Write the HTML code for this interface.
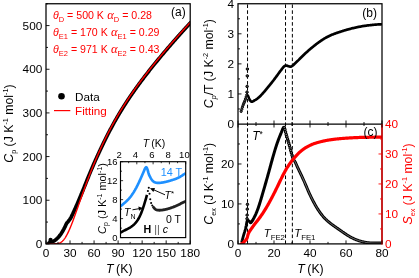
<!DOCTYPE html>
<html><head><meta charset="utf-8"><title>Figure</title>
<style>html,body{margin:0;padding:0;background:#fff;}body{width:419px;height:278px;overflow:hidden;font-family:"Liberation Sans",sans-serif;}</style></head>
<body>
<svg width="419" height="278" viewBox="0 0 419 278" style="display:block;will-change:transform">
<rect width="419" height="278" fill="#fff"/>
<clipPath id="ca"><rect x="46.00" y="3.75" width="144.20" height="240.15"/></clipPath>
<g clip-path="url(#ca)">
<path d="M47.69 243.99 L47.90 243.89 L48.11 243.75 L48.32 243.58 L48.53 243.40 L48.74 243.21 L48.95 243.03 L49.16 242.87 L49.37 242.71 L49.58 242.52 L49.79 242.29 L50.00 242.00 L50.21 241.73 L50.42 241.50 L50.63 241.49 L50.83 241.53 L51.04 241.59 L51.25 241.64 L51.46 241.72 L51.67 241.79 L51.88 241.81 L52.09 241.78 L52.30 241.71 L52.51 241.63 L52.72 241.55 L52.93 241.46 L53.14 241.36 L53.35 241.26 L53.56 241.15 L53.77 241.05 L53.98 240.93 L54.19 240.81 L54.40 240.69 L54.61 240.56 L54.82 240.42 L55.03 240.27 L55.23 240.12 L55.44 239.96 L55.65 239.79 L55.86 239.62 L56.07 239.44 L56.28 239.26 L56.49 239.07 L56.70 238.88 L56.91 238.68 L57.12 238.48 L57.33 238.28 L57.54 238.07 L57.75 237.86 L57.96 237.65 L58.17 237.43 L58.38 237.21 L58.59 236.98 L58.80 236.75 L59.01 236.51 L59.22 236.26 L59.43 236.01 L59.63 235.75 L59.84 235.49 L60.05 235.21 L60.26 234.93 L60.47 234.64 L60.68 234.34 L60.89 234.04 L61.10 233.72 L61.31 233.40 L61.52 233.08 L61.73 232.74 L61.94 232.40 L62.15 232.06 L62.36 231.71 L62.57 231.35 L62.78 230.99 L62.99 230.62 L63.20 230.24 L63.41 229.86 L63.62 229.48 L63.83 229.09 L64.03 228.69 L64.24 228.29 L64.45 227.89 L64.66 227.47 L64.87 227.06 L65.08 226.63 L65.29 226.20 L65.50 225.76 L65.71 225.30 L65.92 224.83 L66.13 224.36 L66.34 223.90 L66.55 223.46 L66.76 223.07 L66.97 222.81 L67.18 222.59 L67.39 222.40 L67.60 222.20 L67.81 221.97 L68.02 221.73 L68.23 221.47 L68.43 221.21 L68.64 220.94 L68.85 220.66 L69.06 220.38 L69.27 220.10 L69.48 219.83 L69.69 219.55 L69.90 219.26 L70.11 218.96 L70.32 218.65 L70.53 218.32 L70.74 217.96 L70.95 217.57 L71.16 217.14 L71.37 216.70 L71.58 216.25 L71.79 215.82 L72.00 215.39 L72.21 214.97 L72.42 214.54 L72.63 214.12 L72.83 213.68 L73.04 213.24 L73.25 212.79 L73.46 212.34 L73.67 211.88 L73.88 211.42 L74.09 210.96 L74.30 210.50 L74.51 210.03 L74.72 209.57 L74.93 209.10 L75.14 208.63 L75.35 208.16 L75.56 207.69 L75.77 207.23 L75.98 206.76 L76.19 206.29 L76.40 205.82 L76.61 205.35 L76.82 204.88 L77.02 204.41 L77.23 203.94 L77.44 203.46 L77.65 202.98 L77.86 202.50 L78.07 202.02 L78.28 201.54 L78.49 201.05 L78.70 200.56 L78.91 200.07 L79.12 199.58 L79.33 199.08 L79.54 198.58 L79.75 198.08 L79.96 197.58 L80.17 197.08 L80.38 196.58 L80.59 196.08 L80.80 195.57 L81.01 195.06 L81.22 194.56 L81.42 194.05 L81.63 193.54 L81.84 193.03 L82.05 192.52 L82.26 192.01 L82.47 191.49 L82.68 190.98 L82.89 190.47 L83.10 189.95 L83.31 189.43 L83.52 188.91 L83.73 188.39 L83.94 187.87 L84.15 187.35 L84.36 186.83 L84.57 186.31 L84.78 185.79 L84.99 185.27 L85.20 184.74 L85.41 184.22 L85.62 183.70 L85.82 183.18 L86.03 182.65 L86.24 182.13 L86.45 181.61 L86.66 181.09 L86.87 180.57 L87.08 180.05 L87.29 179.53 L87.50 179.01 L87.71 178.49 L87.92 177.97 L88.13 177.46 L88.34 176.94 L88.55 176.43 L88.76 175.92 L88.97 175.41 L89.18 174.90 L89.39 174.39 L89.60 173.88 L89.81 173.37 L90.02 172.87 L90.22 172.37 L90.43 171.87 L90.64 171.37 L90.85 170.87 L91.06 170.37 L91.27 169.88 L91.48 169.38 L91.69 168.89 L91.90 168.40 L92.11 167.91 L92.32 167.43 L92.53 166.94 L92.74 166.46 L92.95 165.98 L93.16 165.50 L93.37 165.02 L93.58 164.54 L93.79 164.06 L94.00 163.59 L94.21 163.12 L94.42 162.64 L94.62 162.17 L94.83 161.70 L95.04 161.24 L95.25 160.77 L95.46 160.30 L95.67 159.84 L95.88 159.37 L96.09 158.91 L96.30 158.44 L96.51 157.98 L96.72 157.52 L96.93 157.06 L97.14 156.60 L97.35 156.14 L97.56 155.68 L97.77 155.23 L97.98 154.77 L98.19 154.31 L98.40 153.86 L98.61 153.40 L98.82 152.95 L99.02 152.50 L99.23 152.05 L99.44 151.60 L99.65 151.15 L99.86 150.70 L100.07 150.26 L100.28 149.81 L100.49 149.36 L100.70 148.92 L100.91 148.48 L101.12 148.03 L101.33 147.59 L101.54 147.15 L101.75 146.71 L101.96 146.27 L102.17 145.83 L102.38 145.40 L102.59 144.96 L102.80 144.53 L103.01 144.09 L103.22 143.66 L103.42 143.22 L103.63 142.79 L103.84 142.36 L104.05 141.93 L104.26 141.50 L104.47 141.07 L104.68 140.65 L104.89 140.22 L105.10 139.79 L105.31 139.37 L105.52 138.94 L105.73 138.52 L105.94 138.10 L106.15 137.68 L106.36 137.26 L106.57 136.84 L106.78 136.42 L106.99 136.00 L107.20 135.59 L107.41 135.17 L107.62 134.76 L107.82 134.35 L108.03 133.94 L108.24 133.53 L108.45 133.12 L108.66 132.71 L108.87 132.30 L109.08 131.90 L109.29 131.49 L109.50 131.09 L109.71 130.69 L109.92 130.29 L110.13 129.89 L110.34 129.58 L110.34 129.58 L110.74 128.82 L111.14 128.06 L111.55 127.31 L111.95 126.57 L112.35 125.82 L112.75 125.08 L113.16 124.35 L113.56 123.62 L113.96 122.89 L114.36 122.17 L114.77 121.45 L115.17 120.74 L115.57 120.03 L115.97 119.32 L116.38 118.62 L116.78 117.92 L117.18 117.22 L117.59 116.53 L117.99 115.85 L118.39 115.16 L118.79 114.48 L119.20 113.81 L119.60 113.13 L120.00 112.46 L120.40 111.80 L120.81 111.13 L121.21 110.47 L121.61 109.82 L122.01 109.17 L122.42 108.52 L122.82 107.87 L123.22 107.23 L123.62 106.59 L124.03 105.95 L124.43 105.32 L124.83 104.68 L125.23 104.06 L125.64 103.43 L126.04 102.81 L126.44 102.19 L126.84 101.57 L127.25 100.96 L127.65 100.35 L128.05 99.74 L128.45 99.13 L128.86 98.53 L129.26 97.93 L129.66 97.33 L130.06 96.74 L130.47 96.14 L130.87 95.55 L131.27 94.96 L131.68 94.38 L132.08 93.80 L132.48 93.21 L132.88 92.64 L133.29 92.06 L133.69 91.48 L134.09 90.91 L134.49 90.34 L134.90 89.77 L135.30 89.21 L135.70 88.64 L136.10 88.08 L136.51 87.52 L136.91 86.96 L137.31 86.41 L137.71 85.85 L138.12 85.30 L138.52 84.75 L138.92 84.20 L139.32 83.65 L139.73 83.11 L140.13 82.56 L140.53 82.02 L140.93 81.48 L141.34 80.94 L141.74 80.41 L142.14 79.87 L142.54 79.34 L142.95 78.80 L143.35 78.27 L143.75 77.74 L144.15 77.22 L144.56 76.69 L144.96 76.16 L145.36 75.64 L145.76 75.12 L146.17 74.60 L146.57 74.08 L146.97 73.56 L147.38 73.04 L147.78 72.53 L148.18 72.01 L148.58 71.50 L148.99 70.99 L149.39 70.48 L149.79 69.97 L150.19 69.46 L150.60 68.95 L151.00 68.44 L151.40 67.94 L151.80 67.44 L152.21 66.93 L152.61 66.43 L153.01 65.93 L153.41 65.43 L153.82 64.93 L154.22 64.43 L154.62 63.94 L155.02 63.44 L155.43 62.95 L155.83 62.45 L156.23 61.96 L156.63 61.47 L157.04 60.98 L157.44 60.49 L157.84 60.00 L158.24 59.51 L158.65 59.02 L159.05 58.54 L159.45 58.05 L159.85 57.57 L160.26 57.08 L160.66 56.60 L161.06 56.12 L161.47 55.64 L161.87 55.15 L162.27 54.67 L162.67 54.20 L163.08 53.72 L163.48 53.24 L163.88 52.76 L164.28 52.29 L164.69 51.81 L165.09 51.34 L165.49 50.86 L165.89 50.39 L166.30 49.92 L166.70 49.45 L167.10 48.97 L167.50 48.50 L167.91 48.03 L168.31 47.57 L168.71 47.10 L169.11 46.63 L169.52 46.16 L169.92 45.70 L170.32 45.23 L170.72 44.77 L171.13 44.30 L171.53 43.84 L171.93 43.38 L172.33 42.92 L172.74 42.45 L173.14 41.99 L173.54 41.53 L173.94 41.07 L174.35 40.61 L174.75 40.16 L175.15 39.70 L175.55 39.24 L175.96 38.79 L176.36 38.33 L176.76 37.87 L177.17 37.42 L177.57 36.97 L177.97 36.51 L178.37 36.06 L178.78 35.61 L179.18 35.16 L179.58 34.71 L179.98 34.26 L180.39 33.81 L180.79 33.36 L181.19 32.91 L181.59 32.46 L182.00 32.02 L182.40 31.57 L182.80 31.12 L183.20 30.68 L183.61 30.24 L184.01 29.79 L184.41 29.35 L184.81 28.91 L185.22 28.46 L185.62 28.02 L186.02 27.58 L186.42 27.14 L186.83 26.70 L187.23 26.26 L187.63 25.83 L188.03 25.39 L188.44 24.95 L188.84 24.51 L189.24 24.08 L189.64 23.64 L190.05 23.21 L190.45 22.78" fill="none" stroke="#000" stroke-width="3.7" stroke-linejoin="round" stroke-linecap="round"/>
<circle cx="50.55" cy="239.97" r="2.1" fill="#000"/>
<path d="M46.40 243.90 L46.76 243.90 L47.12 243.90 L47.48 243.90 L47.84 243.90 L48.20 243.90 L48.56 243.90 L48.92 243.90 L49.28 243.89 L49.64 243.89 L50.00 243.89 L50.36 243.89 L50.73 243.88 L51.09 243.88 L51.45 243.88 L51.81 243.87 L52.17 243.87 L52.53 243.86 L52.89 243.85 L53.25 243.84 L53.61 243.84 L53.97 243.83 L54.33 243.81 L54.69 243.80 L55.05 243.79 L55.41 243.77 L55.77 243.74 L56.13 243.72 L56.49 243.69 L56.85 243.65 L57.21 243.60 L57.57 243.55 L57.93 243.48 L58.29 243.40 L58.65 243.31 L59.01 243.20 L59.37 243.07 L59.74 242.93 L60.10 242.77 L60.46 242.58 L60.82 242.37 L61.18 242.14 L61.54 241.89 L61.90 241.61 L62.26 241.30 L62.62 240.96 L62.98 240.60 L63.34 240.21 L63.70 239.79 L64.06 239.34 L64.42 238.86 L64.78 238.36 L65.14 237.83 L65.50 237.27 L65.86 236.68 L66.22 236.07 L66.58 235.43 L66.94 234.77 L67.30 234.08 L67.66 233.37 L68.02 232.63 L68.38 231.88 L68.75 231.10 L69.11 230.30 L69.47 229.49 L69.83 228.65 L70.19 227.80 L70.55 226.93 L70.91 226.05 L71.27 225.15 L71.63 224.24 L71.99 223.31 L72.35 222.38 L72.71 221.43 L73.07 220.47 L73.43 219.51 L73.79 218.53 L74.15 217.55 L74.51 216.56 L74.87 215.56 L75.23 214.56 L75.59 213.56 L75.95 212.55 L76.31 211.53 L76.67 210.51 L77.03 209.49 L77.39 208.47 L77.76 207.45 L78.12 206.42 L78.48 205.39 L78.84 204.37 L79.20 203.34 L79.56 202.31 L79.92 201.29 L80.28 200.26 L80.64 199.24 L81.00 198.22 L81.36 197.20 L81.72 196.18 L82.08 195.17 L82.44 194.16 L82.80 193.15 L83.16 192.14 L83.52 191.14 L83.88 190.14 L84.24 189.14 L84.60 188.15 L84.96 187.16 L85.32 186.18 L85.68 185.20 L86.04 184.22 L86.40 183.25 L86.77 182.28 L87.13 181.32 L87.49 180.36 L87.85 179.41 L88.21 178.46 L88.57 177.51 L88.93 176.57 L89.29 175.63 L89.65 174.70 L90.01 173.77 L90.37 172.85 L90.73 171.93 L91.09 171.02 L91.45 170.11 L91.81 169.21 L92.17 168.31 L92.53 167.42 L92.89 166.53 L93.25 165.65 L93.61 164.77 L93.97 163.89 L94.33 163.02 L94.69 162.16 L95.05 161.30 L95.41 160.44 L95.78 159.59 L96.14 158.75 L96.50 157.90 L96.86 157.07 L97.22 156.24 L97.58 155.41 L97.94 154.58 L98.30 153.77 L98.66 152.95 L99.02 152.14 L99.38 151.34 L99.74 150.54 L100.10 149.74 L100.46 148.95 L100.82 148.16 L101.18 147.38 L101.54 146.60 L101.90 145.83 L102.26 145.06 L102.62 144.29 L102.98 143.53 L103.34 142.77 L103.70 142.02 L104.06 141.27 L104.42 140.53 L104.79 139.78 L105.15 139.05 L105.51 138.31 L105.87 137.59 L106.23 136.86 L106.59 136.14 L106.95 135.42 L107.31 134.71 L107.67 134.00 L108.03 133.29 L108.39 132.59 L108.75 131.89 L109.11 131.20 L109.47 130.51 L109.83 129.82 L110.19 129.14 L110.55 128.46 L110.91 127.78 L111.27 127.11 L111.63 126.44 L111.99 125.77 L112.35 125.11 L112.71 124.45 L113.07 123.79 L113.43 123.14 L113.80 122.49 L114.16 121.85 L114.52 121.20 L114.88 120.56 L115.24 119.93 L115.60 119.29 L115.96 118.66 L116.32 118.04 L116.68 117.41 L117.04 116.79 L117.40 116.17 L117.76 115.56 L118.12 114.95 L118.48 114.34 L118.84 113.73 L119.20 113.13 L119.56 112.53 L119.92 111.93 L120.28 111.33 L120.64 110.74 L121.00 110.15 L121.36 109.56 L121.72 108.98 L122.08 108.40 L122.44 107.82 L122.81 107.24 L123.17 106.67 L123.53 106.10 L123.89 105.53 L124.25 104.96 L124.61 104.39 L124.97 103.83 L125.33 103.27 L125.69 102.71 L126.05 102.16 L126.41 101.61 L126.77 101.06 L127.13 100.51 L127.49 99.96 L127.85 99.42 L128.21 98.87 L128.57 98.33 L128.93 97.80 L129.29 97.26 L129.65 96.73 L130.01 96.19 L130.37 95.66 L130.73 95.14 L131.09 94.61 L131.45 94.09 L131.82 93.56 L132.18 93.04 L132.54 92.52 L132.90 92.01 L133.26 91.49 L133.62 90.98 L133.98 90.47 L134.34 89.96 L134.70 89.45 L135.06 88.94 L135.42 88.44 L135.78 87.93 L136.14 87.43 L136.50 86.93 L136.86 86.43 L137.22 85.94 L137.58 85.44 L137.94 84.95 L138.30 84.45 L138.66 83.96 L139.02 83.47 L139.38 82.98 L139.74 82.50 L140.10 82.01 L140.46 81.52 L140.83 81.04 L141.19 80.56 L141.55 80.08 L141.91 79.60 L142.27 79.12 L142.63 78.65 L142.99 78.17 L143.35 77.70 L143.71 77.22 L144.07 76.75 L144.43 76.28 L144.79 75.81 L145.15 75.34 L145.51 74.87 L145.87 74.41 L146.23 73.94 L146.59 73.48 L146.95 73.01 L147.31 72.55 L147.67 72.09 L148.03 71.63 L148.39 71.17 L148.75 70.71 L149.11 70.26 L149.47 69.80 L149.84 69.34 L150.20 68.89 L150.56 68.44 L150.92 67.98 L151.28 67.53 L151.64 67.08 L152.00 66.63 L152.36 66.18 L152.72 65.73 L153.08 65.29 L153.44 64.84 L153.80 64.39 L154.16 63.95 L154.52 63.50 L154.88 63.06 L155.24 62.62 L155.60 62.18 L155.96 61.73 L156.32 61.29 L156.68 60.85 L157.04 60.42 L157.40 59.98 L157.76 59.54 L158.12 59.10 L158.48 58.67 L158.85 58.23 L159.21 57.80 L159.57 57.36 L159.93 56.93 L160.29 56.50 L160.65 56.06 L161.01 55.63 L161.37 55.20 L161.73 54.77 L162.09 54.34 L162.45 53.91 L162.81 53.49 L163.17 53.06 L163.53 52.63 L163.89 52.20 L164.25 51.78 L164.61 51.35 L164.97 50.93 L165.33 50.51 L165.69 50.08 L166.05 49.66 L166.41 49.24 L166.77 48.81 L167.13 48.39 L167.49 47.97 L167.86 47.55 L168.22 47.13 L168.58 46.71 L168.94 46.30 L169.30 45.88 L169.66 45.46 L170.02 45.04 L170.38 44.63 L170.74 44.21 L171.10 43.80 L171.46 43.38 L171.82 42.97 L172.18 42.56 L172.54 42.14 L172.90 41.73 L173.26 41.32 L173.62 40.91 L173.98 40.50 L174.34 40.09 L174.70 39.68 L175.06 39.27 L175.42 38.86 L175.78 38.45 L176.14 38.04 L176.50 37.63 L176.87 37.23 L177.23 36.82 L177.59 36.41 L177.95 36.01 L178.31 35.60 L178.67 35.20 L179.03 34.80 L179.39 34.39 L179.75 33.99 L180.11 33.59 L180.47 33.19 L180.83 32.78 L181.19 32.38 L181.55 31.98 L181.91 31.58 L182.27 31.18 L182.63 30.79 L182.99 30.39 L183.35 29.99 L183.71 29.59 L184.07 29.20 L184.43 28.80 L184.79 28.40 L185.15 28.01 L185.51 27.61 L185.88 27.22 L186.24 26.82 L186.60 26.43 L186.96 26.04 L187.32 25.65 L187.68 25.25 L188.04 24.86 L188.40 24.47 L188.76 24.08 L189.12 23.69 L189.48 23.30 L189.84 22.91 L190.20 22.53" fill="none" stroke="#f00" stroke-width="1.4"/>
</g>
<rect x="46.00" y="3.75" width="144.20" height="240.15" fill="none" stroke="#000" stroke-width="1.25"/>
<line x1="46.00" y1="243.90" x2="49.50" y2="243.90" stroke="#000" stroke-width="0.9"/>
<line x1="46.00" y1="222.07" x2="48.00" y2="222.07" stroke="#000" stroke-width="0.9"/>
<line x1="46.00" y1="200.24" x2="49.50" y2="200.24" stroke="#000" stroke-width="0.9"/>
<line x1="46.00" y1="178.40" x2="48.00" y2="178.40" stroke="#000" stroke-width="0.9"/>
<line x1="46.00" y1="156.57" x2="49.50" y2="156.57" stroke="#000" stroke-width="0.9"/>
<line x1="46.00" y1="134.74" x2="48.00" y2="134.74" stroke="#000" stroke-width="0.9"/>
<line x1="46.00" y1="112.91" x2="49.50" y2="112.91" stroke="#000" stroke-width="0.9"/>
<line x1="46.00" y1="91.08" x2="48.00" y2="91.08" stroke="#000" stroke-width="0.9"/>
<line x1="46.00" y1="69.25" x2="49.50" y2="69.25" stroke="#000" stroke-width="0.9"/>
<line x1="46.00" y1="47.41" x2="48.00" y2="47.41" stroke="#000" stroke-width="0.9"/>
<line x1="46.00" y1="25.58" x2="49.50" y2="25.58" stroke="#000" stroke-width="0.9"/>
<line x1="46.00" y1="3.75" x2="48.00" y2="3.75" stroke="#000" stroke-width="0.9"/>
<line x1="46.00" y1="243.90" x2="46.00" y2="240.40" stroke="#000" stroke-width="0.9"/>
<line x1="58.02" y1="243.90" x2="58.02" y2="241.90" stroke="#000" stroke-width="0.9"/>
<line x1="70.03" y1="243.90" x2="70.03" y2="240.40" stroke="#000" stroke-width="0.9"/>
<line x1="82.05" y1="243.90" x2="82.05" y2="241.90" stroke="#000" stroke-width="0.9"/>
<line x1="94.07" y1="243.90" x2="94.07" y2="240.40" stroke="#000" stroke-width="0.9"/>
<line x1="106.08" y1="243.90" x2="106.08" y2="241.90" stroke="#000" stroke-width="0.9"/>
<line x1="118.10" y1="243.90" x2="118.10" y2="240.40" stroke="#000" stroke-width="0.9"/>
<line x1="130.12" y1="243.90" x2="130.12" y2="241.90" stroke="#000" stroke-width="0.9"/>
<line x1="142.13" y1="243.90" x2="142.13" y2="240.40" stroke="#000" stroke-width="0.9"/>
<line x1="154.15" y1="243.90" x2="154.15" y2="241.90" stroke="#000" stroke-width="0.9"/>
<line x1="166.17" y1="243.90" x2="166.17" y2="240.40" stroke="#000" stroke-width="0.9"/>
<line x1="178.18" y1="243.90" x2="178.18" y2="241.90" stroke="#000" stroke-width="0.9"/>
<line x1="190.20" y1="243.90" x2="190.20" y2="240.40" stroke="#000" stroke-width="0.9"/>
<text x="42.3" y="248.10" font-family="Liberation Sans, sans-serif" font-size="11.8" text-anchor="end">0</text>
<text x="42.3" y="204.44" font-family="Liberation Sans, sans-serif" font-size="11.8" text-anchor="end">100</text>
<text x="42.3" y="160.77" font-family="Liberation Sans, sans-serif" font-size="11.8" text-anchor="end">200</text>
<text x="42.3" y="117.11" font-family="Liberation Sans, sans-serif" font-size="11.8" text-anchor="end">300</text>
<text x="42.3" y="73.45" font-family="Liberation Sans, sans-serif" font-size="11.8" text-anchor="end">400</text>
<text x="42.3" y="29.78" font-family="Liberation Sans, sans-serif" font-size="11.8" text-anchor="end">500</text>
<text x="46.00" y="257" font-family="Liberation Sans, sans-serif" font-size="11.8" text-anchor="middle">0</text>
<text x="70.03" y="257" font-family="Liberation Sans, sans-serif" font-size="11.8" text-anchor="middle">30</text>
<text x="94.07" y="257" font-family="Liberation Sans, sans-serif" font-size="11.8" text-anchor="middle">60</text>
<text x="118.10" y="257" font-family="Liberation Sans, sans-serif" font-size="11.8" text-anchor="middle">90</text>
<text x="142.13" y="257" font-family="Liberation Sans, sans-serif" font-size="11.8" text-anchor="middle">120</text>
<text x="166.17" y="257" font-family="Liberation Sans, sans-serif" font-size="11.8" text-anchor="middle">150</text>
<text x="190.20" y="257" font-family="Liberation Sans, sans-serif" font-size="11.8" text-anchor="middle">180</text>
<text x="119.3" y="273" font-family="Liberation Sans, sans-serif" font-size="12.3" text-anchor="middle"><tspan font-style="italic">T</tspan><tspan dx="-0.9"> (K)</tspan></text>
<text transform="translate(12.9 123.6) rotate(-90)" font-family="Liberation Sans, sans-serif" font-size="12.3" text-anchor="middle"><tspan font-style="italic">C</tspan><tspan font-size="7.2" dy="2.9">p</tspan><tspan dy="-2.9"> (J K</tspan><tspan font-size="7.2" dy="-5.2">-1</tspan><tspan dy="5.2"> mol</tspan><tspan font-size="7.2" dy="-5.2">-1</tspan><tspan dy="5.2">)</tspan></text>
<text x="53" y="19.30" font-family="Liberation Sans, sans-serif" font-size="10.6" fill="#f00"><tspan font-style="italic">θ</tspan><tspan font-size="7.5" dy="2.6">D</tspan><tspan dy="-2.6"> = 500 K </tspan><tspan font-style="italic" font-family="Liberation Serif, serif" font-size="12.6" dx="0.3">α</tspan><tspan font-size="7.5" dy="2.6" dx="0">D</tspan><tspan dy="-2.6"> = 0.28</tspan></text>
<text x="53" y="36.00" font-family="Liberation Sans, sans-serif" font-size="10.6" fill="#f00"><tspan font-style="italic">θ</tspan><tspan font-size="7.5" dy="2.6">E1</tspan><tspan dy="-2.6"> = 170 K </tspan><tspan font-style="italic" font-family="Liberation Serif, serif" font-size="12.6" dx="0.3">α</tspan><tspan font-size="7.5" dy="2.6" dx="0">E1</tspan><tspan dy="-2.6"> = 0.29</tspan></text>
<text x="53" y="53.20" font-family="Liberation Sans, sans-serif" font-size="10.6" fill="#f00"><tspan font-style="italic">θ</tspan><tspan font-size="7.5" dy="2.6">E2</tspan><tspan dy="-2.6"> = 971 K </tspan><tspan font-style="italic" font-family="Liberation Serif, serif" font-size="12.6" dx="0.3">α</tspan><tspan font-size="7.5" dy="2.6" dx="0">E2</tspan><tspan dy="-2.6"> = 0.43</tspan></text>
<text x="171" y="15.8" font-family="Liberation Sans, sans-serif" font-size="12">(a)</text>
<circle cx="61.5" cy="96.2" r="3.3" fill="#000"/>
<text x="75" y="100.5" font-family="Liberation Sans, sans-serif" font-size="11.7">Data</text>
<line x1="54" y1="110.6" x2="70.3" y2="110.6" stroke="#f00" stroke-width="1.2"/>
<text x="75" y="115.3" font-family="Liberation Sans, sans-serif" font-size="11.7" fill="#f00">Fitting</text>
<clipPath id="ci"><rect x="120.50" y="161.70" width="65.20" height="75.90"/></clipPath>
<g clip-path="url(#ci)">
<path d="M120.50 206.29 L120.83 206.03 L121.16 205.77 L121.48 205.49 L121.81 205.22 L122.14 204.95 L122.47 204.68 L122.79 204.41 L123.12 204.14 L123.45 203.87 L123.78 203.59 L124.10 203.32 L124.43 203.04 L124.76 202.76 L125.09 202.47 L125.41 202.18 L125.74 201.88 L126.07 201.58 L126.40 201.27 L126.73 200.96 L127.05 200.64 L127.38 200.32 L127.71 199.99 L128.04 199.65 L128.36 199.30 L128.69 198.94 L129.02 198.58 L129.35 198.20 L129.67 197.82 L130.00 197.42 L130.33 197.02 L130.66 196.60 L130.98 196.17 L131.31 195.73 L131.64 195.28 L131.97 194.82 L132.29 194.35 L132.62 193.86 L132.95 193.37 L133.28 192.86 L133.61 192.34 L133.93 191.80 L134.26 191.26 L134.59 190.70 L134.92 190.14 L135.24 189.56 L135.57 188.97 L135.90 188.37 L136.23 187.77 L136.55 187.15 L136.88 186.52 L137.21 185.88 L137.54 185.23 L137.86 184.58 L138.19 183.91 L138.52 183.23 L138.85 182.54 L139.18 181.84 L139.50 181.14 L139.83 180.42 L140.16 179.69 L140.49 178.95 L140.81 178.21 L141.14 177.47 L141.47 176.72 L141.80 175.98 L142.12 175.23 L142.45 174.48 L142.78 173.74 L143.11 173.00 L143.43 172.26 L143.76 171.48 L144.09 170.67 L144.42 169.85 L144.75 169.09 L145.07 168.47 L145.40 167.91 L145.73 167.44 L146.06 167.18 L146.38 167.25 L146.71 167.68 L147.04 168.37 L147.37 169.16 L147.69 170.15 L148.02 171.38 L148.35 172.63 L148.68 173.75 L149.00 174.67 L149.33 175.40 L149.66 176.07 L149.99 176.71 L150.32 177.34 L150.64 177.94 L150.97 178.51 L151.30 179.04 L151.63 179.53 L151.95 179.98 L152.28 180.39 L152.61 180.76 L152.94 181.08 L153.26 181.37 L153.59 181.62 L153.92 181.84 L154.25 182.03 L154.57 182.19 L154.90 182.33 L155.23 182.45 L155.56 182.55 L155.88 182.64 L156.21 182.71 L156.54 182.77 L156.87 182.81 L157.20 182.85 L157.52 182.88 L157.85 182.90 L158.18 182.91 L158.51 182.91 L158.83 182.91 L159.16 182.90 L159.49 182.88 L159.82 182.86 L160.14 182.84 L160.47 182.80 L160.80 182.77 L161.13 182.73 L161.45 182.68 L161.78 182.64 L162.11 182.59 L162.44 182.53 L162.77 182.48 L163.09 182.42 L163.42 182.36 L163.75 182.29 L164.08 182.23 L164.40 182.16 L164.73 182.09 L165.06 182.02 L165.39 181.94 L165.71 181.87 L166.04 181.79 L166.37 181.71 L166.70 181.63 L167.02 181.55 L167.35 181.46 L167.68 181.38 L168.01 181.29 L168.34 181.20 L168.66 181.11 L168.99 181.01 L169.32 180.92 L169.65 180.83 L169.97 180.73 L170.30 180.64 L170.63 180.54 L170.96 180.44 L171.28 180.34 L171.61 180.24 L171.94 180.14 L172.27 180.04 L172.59 179.93 L172.92 179.83 L173.25 179.72 L173.58 179.61 L173.91 179.50 L174.23 179.39 L174.56 179.28 L174.89 179.16 L175.22 179.04 L175.54 178.92 L175.87 178.79 L176.20 178.67 L176.53 178.54 L176.85 178.40 L177.18 178.26 L177.51 178.12 L177.84 177.97 L178.16 177.82 L178.49 177.67 L178.82 177.50 L179.15 177.34 L179.47 177.16 L179.80 176.99 L180.13 176.80 L180.46 176.61 L180.79 176.41 L181.11 176.21 L181.44 176.00 L181.77 175.79 L182.10 175.57 L182.42 175.35 L182.75 175.13 L183.08 174.90 L183.41 174.68 L183.73 174.46 L184.06 174.25 L184.39 174.04 L184.72 173.85 L185.04 173.67 L185.37 173.50 L185.70 173.35" fill="none" stroke="#1e90ff" stroke-width="2.65" stroke-linejoin="round"/>
<path d="M120.50 232.62 L120.95 232.35 L121.40 232.07 L121.85 231.81 L122.30 231.55 L122.74 231.31 L123.19 231.08 L123.64 230.85 L124.09 230.63 L124.54 230.41 L124.99 230.20 L125.44 229.98 L125.89 229.76 L126.34 229.53 L126.79 229.31 L127.23 229.08 L127.68 228.85 L128.13 228.61 L128.58 228.37 L129.03 228.12 L129.48 227.86 L129.93 227.59 L130.38 227.30 L130.83 227.01 L131.27 226.70 L131.72 226.38 L132.17 226.04 L132.62 225.69 L133.07 225.31 L133.52 224.92 L133.97 224.51 L134.42 224.07 L134.87 223.61 L135.32 223.13 L135.76 222.62 L136.21 222.07 L136.66 221.50 L137.11 220.88 L137.56 220.23 L138.01 219.53 L138.46 218.79 L138.91 218.00 L139.36 217.15 L139.80 216.25 L140.25 215.29 L140.70 214.27 L141.15 213.19 L141.60 212.04 L142.05 210.84 L142.50 209.58 L142.95 208.27 L143.40 206.93 L143.84 205.55 L144.29 204.16 L144.74 202.71 L145.19 201.18 L145.64 199.60 L146.09 198.04 L146.54 196.47 L146.99 194.84" fill="none" stroke="#000" stroke-width="2.6" stroke-linejoin="round"/>
<circle cx="147.88" cy="190.93" r="1.05" fill="#000"/>
<circle cx="148.78" cy="187.79" r="1.05" fill="#000"/>
<circle cx="149.51" cy="193.71" r="1.05" fill="#000"/>
<circle cx="150.25" cy="199.24" r="1.05" fill="#000"/>
<circle cx="151.14" cy="203.02" r="1.05" fill="#000"/>
<circle cx="152.28" cy="205.50" r="1.05" fill="#000"/>
<path d="M153.51 207.24 L154.05 207.93 L154.60 208.53 L155.14 209.02 L155.69 209.41 L156.24 209.70 L156.78 209.91 L157.33 210.06 L157.87 210.16 L158.42 210.22 L158.96 210.25 L159.51 210.25 L160.06 210.23 L160.60 210.20 L161.15 210.15 L161.69 210.09 L162.24 210.02 L162.78 209.94 L163.33 209.85 L163.87 209.75 L164.42 209.65 L164.97 209.54 L165.51 209.42 L166.06 209.29 L166.60 209.16 L167.15 209.02 L167.69 208.88 L168.24 208.73 L168.79 208.57 L169.33 208.41 L169.88 208.24 L170.42 208.06 L170.97 207.88 L171.51 207.69 L172.06 207.49 L172.60 207.29 L173.15 207.09 L173.70 206.87 L174.24 206.65 L174.79 206.43 L175.33 206.20 L175.88 205.96 L176.42 205.72 L176.97 205.47 L177.52 205.22 L178.06 204.97 L178.61 204.71 L179.15 204.44 L179.70 204.17 L180.24 203.90 L180.79 203.62 L181.33 203.33 L181.88 203.04 L182.43 202.76 L182.97 202.47 L183.52 202.20 L184.06 201.94 L184.61 201.69 L185.15 201.47 L185.70 201.28" fill="none" stroke="#222" stroke-width="2.8" stroke-linejoin="round" stroke-linecap="round"/>
</g>
<rect x="120.50" y="161.70" width="65.20" height="75.90" fill="none" stroke="#000" stroke-width="1.15"/>
<line x1="120.50" y1="237.60" x2="123.10" y2="237.60" stroke="#000" stroke-width="0.8"/>
<line x1="120.50" y1="228.11" x2="122.00" y2="228.11" stroke="#000" stroke-width="0.8"/>
<line x1="120.50" y1="218.62" x2="123.10" y2="218.62" stroke="#000" stroke-width="0.8"/>
<line x1="120.50" y1="209.14" x2="122.00" y2="209.14" stroke="#000" stroke-width="0.8"/>
<line x1="120.50" y1="199.65" x2="123.10" y2="199.65" stroke="#000" stroke-width="0.8"/>
<line x1="120.50" y1="190.16" x2="122.00" y2="190.16" stroke="#000" stroke-width="0.8"/>
<line x1="120.50" y1="180.67" x2="123.10" y2="180.67" stroke="#000" stroke-width="0.8"/>
<line x1="120.50" y1="171.19" x2="122.00" y2="171.19" stroke="#000" stroke-width="0.8"/>
<line x1="120.50" y1="161.70" x2="123.10" y2="161.70" stroke="#000" stroke-width="0.8"/>
<line x1="120.50" y1="161.70" x2="120.50" y2="164.30" stroke="#000" stroke-width="0.8"/>
<line x1="128.65" y1="161.70" x2="128.65" y2="163.20" stroke="#000" stroke-width="0.8"/>
<line x1="136.80" y1="161.70" x2="136.80" y2="164.30" stroke="#000" stroke-width="0.8"/>
<line x1="144.95" y1="161.70" x2="144.95" y2="163.20" stroke="#000" stroke-width="0.8"/>
<line x1="153.10" y1="161.70" x2="153.10" y2="164.30" stroke="#000" stroke-width="0.8"/>
<line x1="161.25" y1="161.70" x2="161.25" y2="163.20" stroke="#000" stroke-width="0.8"/>
<line x1="169.40" y1="161.70" x2="169.40" y2="164.30" stroke="#000" stroke-width="0.8"/>
<line x1="177.55" y1="161.70" x2="177.55" y2="163.20" stroke="#000" stroke-width="0.8"/>
<line x1="185.70" y1="161.70" x2="185.70" y2="164.30" stroke="#000" stroke-width="0.8"/>
<text x="117.6" y="240.60" font-family="Liberation Sans, sans-serif" font-size="9.5" text-anchor="end">0</text>
<text x="117.6" y="221.62" font-family="Liberation Sans, sans-serif" font-size="9.5" text-anchor="end">4</text>
<text x="117.6" y="202.65" font-family="Liberation Sans, sans-serif" font-size="9.5" text-anchor="end">8</text>
<text x="117.6" y="183.67" font-family="Liberation Sans, sans-serif" font-size="9.5" text-anchor="end">12</text>
<text x="117.6" y="164.70" font-family="Liberation Sans, sans-serif" font-size="9.5" text-anchor="end">16</text>
<text x="119.20" y="158.2" font-family="Liberation Sans, sans-serif" font-size="9.5" text-anchor="middle">2</text>
<text x="135.50" y="158.2" font-family="Liberation Sans, sans-serif" font-size="9.5" text-anchor="middle">4</text>
<text x="151.80" y="158.2" font-family="Liberation Sans, sans-serif" font-size="9.5" text-anchor="middle">6</text>
<text x="168.10" y="158.2" font-family="Liberation Sans, sans-serif" font-size="9.5" text-anchor="middle">8</text>
<text x="184.40" y="158.2" font-family="Liberation Sans, sans-serif" font-size="9.5" text-anchor="middle">10</text>
<text x="154" y="147.3" font-family="Liberation Sans, sans-serif" font-size="10.5" text-anchor="middle"><tspan font-style="italic">T</tspan><tspan dx="-0.8"> (K)</tspan></text>
<text transform="translate(105.6 198.5) rotate(-90)" font-family="Liberation Sans, sans-serif" font-size="10.9" text-anchor="middle"><tspan font-style="italic">C</tspan><tspan font-size="7" dy="2.2">p</tspan><tspan dy="-2.2"> (J K</tspan><tspan font-size="7" dy="-4">-1</tspan><tspan dy="4"> mol</tspan><tspan font-size="7" dy="-4">-1</tspan><tspan dy="4">)</tspan></text>
<text x="160.8" y="176" font-family="Liberation Sans, sans-serif" font-size="10.8" fill="#1e90ff">14 T</text>
<text x="166" y="222.7" font-family="Liberation Sans, sans-serif" font-size="10.5">0 T</text>
<text x="143.5" y="233.3" font-family="Liberation Sans, sans-serif" font-size="10.7"><tspan font-weight="bold">H</tspan> <tspan fill="#555">||</tspan> <tspan font-style="italic">c</tspan></text>
<text x="164.6" y="199" font-family="Liberation Sans, sans-serif" font-size="10.5"><tspan font-style="italic">T</tspan><tspan font-size="8" dy="-2.6">*</tspan></text>
<text x="124" y="216" font-family="Liberation Sans, sans-serif" font-size="10.5"><tspan font-style="italic">T</tspan><tspan font-size="7" dy="2.5">N</tspan></text>
<line x1="165" y1="194.8" x2="153" y2="189.5" stroke="#000" stroke-width="0.95"/>
<path d="M149.9 188.2 L155.0 188.0 L153.4 192.0 Z" fill="#000"/>
<line x1="132.5" y1="209.8" x2="139.5" y2="208.6" stroke="#000" stroke-width="0.95"/>
<path d="M142.8 208.0 L138.4 206.6 L139.0 210.7 Z" fill="#000"/>
<clipPath id="cb"><rect x="238.00" y="3.75" width="144.00" height="120.25"/></clipPath>
<line x1="247.54" y1="4.40" x2="247.54" y2="243.90" stroke="#000" stroke-width="1" stroke-dasharray="3.6 2.3"/>
<line x1="285.52" y1="4.40" x2="285.52" y2="243.90" stroke="#000" stroke-width="1" stroke-dasharray="3.6 2.3"/>
<line x1="292.36" y1="4.40" x2="292.36" y2="243.90" stroke="#000" stroke-width="1" stroke-dasharray="3.6 2.3"/>
<g clip-path="url(#cb)">
<path d="M249.34 99.06 L249.85 100.11 L250.36 100.77 L250.88 101.29 L251.39 101.61 L251.90 101.71 L252.41 101.60 L252.93 101.36 L253.44 101.06 L253.95 100.76 L254.46 100.46 L254.97 100.17 L255.49 99.88 L256.00 99.57 L256.51 99.23 L257.02 98.86 L257.54 98.47 L258.05 98.05 L258.56 97.62 L259.07 97.16 L259.58 96.68 L260.10 96.19 L260.61 95.69 L261.12 95.16 L261.63 94.63 L262.15 94.08 L262.66 93.52 L263.17 92.95 L263.68 92.36 L264.19 91.77 L264.71 91.17 L265.22 90.56 L265.73 89.95 L266.24 89.33 L266.75 88.71 L267.27 88.09 L267.78 87.47 L268.29 86.84 L268.80 86.22 L269.32 85.59 L269.83 84.96 L270.34 84.33 L270.85 83.70 L271.36 83.06 L271.88 82.42 L272.39 81.77 L272.90 81.12 L273.41 80.46 L273.93 79.79 L274.44 79.11 L274.95 78.43 L275.46 77.74 L275.97 77.04 L276.49 76.33 L277.00 75.63 L277.51 74.91 L278.02 74.20 L278.54 73.49 L279.05 72.79 L279.56 72.10 L280.07 71.42 L280.58 70.74 L281.10 70.08 L281.61 69.40 L282.12 68.72 L282.63 68.04 L283.15 67.38 L283.66 66.81 L284.17 66.38 L284.68 66.03 L285.19 65.77 L285.71 65.61 L286.22 65.56 L286.73 65.62 L287.24 65.78 L287.76 65.97 L288.27 66.11 L288.78 66.23 L289.29 66.41 L289.80 66.58 L290.32 66.68 L290.83 66.63 L291.34 66.44 L291.85 66.14 L292.36 65.78 L292.88 65.39 L293.39 64.94 L293.90 64.44 L294.41 63.94 L294.93 63.46 L295.44 63.00 L295.95 62.53 L296.46 62.06 L296.97 61.58 L297.49 61.09 L298.00 60.60 L298.51 60.09 L299.02 59.59 L299.54 59.08 L300.05 58.57 L300.56 58.05 L301.07 57.54 L301.58 57.03 L302.10 56.53 L302.61 56.02 L303.12 55.52 L303.63 55.02 L304.15 54.53 L304.66 54.04 L305.17 53.56 L305.68 53.08 L306.19 52.61 L306.71 52.14 L307.22 51.67 L307.73 51.21 L308.24 50.76 L308.76 50.31 L309.27 49.86 L309.78 49.42 L310.29 48.98 L310.80 48.55 L311.32 48.12 L311.83 47.69 L312.34 47.27 L312.85 46.86 L313.37 46.44 L313.88 46.04 L314.39 45.63 L314.90 45.23 L315.41 44.84 L315.93 44.44 L316.44 44.05 L316.95 43.67 L317.46 43.29 L317.97 42.91 L318.49 42.53 L319.00 42.16 L319.51 41.79 L320.02 41.43 L320.54 41.07 L321.05 40.71 L321.56 40.36 L322.07 40.02 L322.58 39.68 L323.10 39.35 L323.61 39.03 L324.12 38.71 L324.63 38.40 L325.15 38.10 L325.66 37.80 L326.17 37.51 L326.68 37.24 L327.19 36.96 L327.71 36.70 L328.22 36.44 L328.73 36.19 L329.24 35.95 L329.76 35.72 L330.27 35.49 L330.78 35.26 L331.29 35.04 L331.80 34.83 L332.32 34.62 L332.83 34.41 L333.34 34.21 L333.85 34.02 L334.37 33.82 L334.88 33.63 L335.39 33.45 L335.90 33.26 L336.41 33.08 L336.93 32.90 L337.44 32.72 L337.95 32.55 L338.46 32.37 L338.98 32.20 L339.49 32.03 L340.00 31.86 L340.51 31.70 L341.02 31.53 L341.54 31.36 L342.05 31.20 L342.56 31.04 L343.07 30.88 L343.58 30.72 L344.10 30.56 L344.61 30.41 L345.12 30.25 L345.63 30.10 L346.15 29.95 L346.66 29.80 L347.17 29.65 L347.68 29.51 L348.19 29.37 L348.71 29.23 L349.22 29.09 L349.73 28.95 L350.24 28.82 L350.76 28.69 L351.27 28.56 L351.78 28.43 L352.29 28.30 L352.80 28.18 L353.32 28.06 L353.83 27.94 L354.34 27.82 L354.85 27.71 L355.37 27.59 L355.88 27.48 L356.39 27.37 L356.90 27.26 L357.41 27.15 L357.93 27.05 L358.44 26.94 L358.95 26.84 L359.46 26.74 L359.98 26.64 L360.49 26.55 L361.00 26.46 L361.51 26.37 L362.02 26.28 L362.54 26.19 L363.05 26.11 L363.56 26.03 L364.07 25.95 L364.59 25.87 L365.10 25.80 L365.61 25.73 L366.12 25.66 L366.63 25.59 L367.15 25.52 L367.66 25.46 L368.17 25.40 L368.68 25.34 L369.19 25.27 L369.71 25.22 L370.22 25.16 L370.73 25.10 L371.24 25.04 L371.76 24.99 L372.27 24.94 L372.78 24.88 L373.29 24.83 L373.80 24.78 L374.32 24.73 L374.83 24.69 L375.34 24.64 L375.85 24.60 L376.37 24.56 L376.88 24.52 L377.39 24.48 L377.90 24.45 L378.41 24.41 L378.93 24.38 L379.44 24.35 L379.95 24.33 L380.46 24.31 L380.98 24.29 L381.49 24.27 L382.00 24.25" fill="none" stroke="#000" stroke-width="2.7" stroke-linejoin="round"/>
<circle cx="241.15" cy="111.39" r="1.15" fill="#555" stroke="#000" stroke-width="0.9"/>
<circle cx="241.78" cy="109.30" r="1.15" fill="#555" stroke="#000" stroke-width="0.9"/>
<circle cx="242.41" cy="107.22" r="1.15" fill="#555" stroke="#000" stroke-width="0.9"/>
<circle cx="243.04" cy="105.30" r="1.15" fill="#555" stroke="#000" stroke-width="0.9"/>
<circle cx="243.67" cy="103.63" r="1.15" fill="#555" stroke="#000" stroke-width="0.9"/>
<circle cx="244.30" cy="102.25" r="1.15" fill="#555" stroke="#000" stroke-width="0.9"/>
<circle cx="244.93" cy="100.64" r="1.15" fill="#555" stroke="#000" stroke-width="0.9"/>
<circle cx="245.56" cy="98.86" r="1.15" fill="#555" stroke="#000" stroke-width="0.9"/>
<circle cx="246.19" cy="96.96" r="1.15" fill="#555" stroke="#000" stroke-width="0.9"/>
<circle cx="246.82" cy="94.91" r="1.15" fill="#555" stroke="#000" stroke-width="0.9"/>
<path d="M248.08 95.58 L248.29 95.96 L248.49 96.37 L248.70 96.94 L248.90 97.65 L249.11 98.35 L249.31 98.98 L249.52 99.55" fill="none" stroke="#000" stroke-width="2.2" stroke-linecap="round" stroke-linejoin="round"/>
<circle cx="247.03" cy="92.13" r="1.25" fill="#444" stroke="#000" stroke-width="1"/>
<circle cx="247.12" cy="86.42" r="1.25" fill="#444" stroke="#000" stroke-width="1"/>
<circle cx="247.30" cy="75.90" r="1.25" fill="#444" stroke="#000" stroke-width="1"/>
<circle cx="247.41" cy="68.99" r="1.25" fill="#444" stroke="#000" stroke-width="1"/>
</g>
<clipPath id="cc"><rect x="238.00" y="124.00" width="144.00" height="119.90"/></clipPath>
<g clip-path="url(#cc)">
<path d="M249.34 221.26 L249.63 221.70 L249.93 222.16 L250.22 222.52 L250.51 222.70 L250.81 222.64 L251.10 222.45 L251.39 222.15 L251.69 221.77 L251.98 221.34 L252.27 220.86 L252.57 220.37 L252.86 219.88 L253.15 219.38 L253.45 218.86 L253.74 218.32 L254.04 217.76 L254.33 217.18 L254.62 216.60 L254.92 216.00 L255.21 215.39 L255.50 214.77 L255.80 214.12 L256.09 213.45 L256.38 212.76 L256.68 212.05 L256.97 211.32 L257.26 210.56 L257.56 209.78 L257.85 208.98 L258.14 208.15 L258.44 207.31 L258.73 206.44 L259.02 205.56 L259.32 204.66 L259.61 203.74 L259.90 202.81 L260.20 201.86 L260.49 200.90 L260.78 199.92 L261.08 198.94 L261.37 197.95 L261.66 196.95 L261.96 195.95 L262.25 194.94 L262.55 193.93 L262.84 192.92 L263.13 191.90 L263.43 190.89 L263.72 189.87 L264.01 188.85 L264.31 187.84 L264.60 186.82 L264.89 185.80 L265.19 184.78 L265.48 183.76 L265.77 182.74 L266.07 181.72 L266.36 180.69 L266.65 179.67 L266.95 178.63 L267.24 177.60 L267.53 176.56 L267.83 175.51 L268.12 174.46 L268.41 173.41 L268.71 172.35 L269.00 171.28 L269.29 170.21 L269.59 169.14 L269.88 168.07 L270.17 166.99 L270.47 165.92 L270.76 164.84 L271.05 163.76 L271.35 162.69 L271.64 161.62 L271.94 160.55 L272.23 159.49 L272.52 158.44 L272.82 157.39 L273.11 156.36 L273.40 155.33 L273.70 154.31 L273.99 153.31 L274.28 152.31 L274.58 151.33 L274.87 150.36 L275.16 149.41 L275.46 148.46 L275.75 147.53 L276.04 146.62 L276.34 145.71 L276.63 144.83 L276.92 143.95 L277.22 143.09 L277.51 142.25 L277.80 141.42 L278.10 140.61 L278.39 139.82 L278.68 139.04 L278.98 138.27 L279.27 137.52 L279.56 136.78 L279.86 136.05 L280.15 135.33 L280.45 134.61 L280.74 133.90 L281.03 133.18 L281.33 132.47 L281.62 131.73 L281.91 130.96 L282.21 130.19 L282.50 129.45 L282.79 128.78 L283.09 128.23 L283.38 127.74 L283.67 127.36 L283.97 127.20 L284.26 127.50" fill="none" stroke="#000" stroke-width="3.0" stroke-linejoin="round" stroke-linecap="round"/>
<circle cx="284.26" cy="127.50" r="1.2" fill="#999" stroke="#000" stroke-width="1.1"/>
<circle cx="284.91" cy="129.42" r="1.2" fill="#999" stroke="#000" stroke-width="1.1"/>
<circle cx="285.56" cy="131.99" r="1.2" fill="#999" stroke="#000" stroke-width="1.1"/>
<circle cx="286.20" cy="134.52" r="1.2" fill="#999" stroke="#000" stroke-width="1.1"/>
<circle cx="286.85" cy="136.77" r="1.2" fill="#999" stroke="#000" stroke-width="1.1"/>
<circle cx="287.50" cy="138.94" r="1.2" fill="#999" stroke="#000" stroke-width="1.1"/>
<circle cx="288.15" cy="141.11" r="1.2" fill="#999" stroke="#000" stroke-width="1.1"/>
<circle cx="288.80" cy="143.27" r="1.2" fill="#999" stroke="#000" stroke-width="1.1"/>
<circle cx="289.44" cy="145.50" r="1.2" fill="#999" stroke="#000" stroke-width="1.1"/>
<circle cx="290.09" cy="147.93" r="1.2" fill="#999" stroke="#000" stroke-width="1.1"/>
<circle cx="290.74" cy="150.44" r="1.2" fill="#999" stroke="#000" stroke-width="1.1"/>
<circle cx="291.39" cy="152.85" r="1.2" fill="#999" stroke="#000" stroke-width="1.1"/>
<circle cx="292.04" cy="155.19" r="1.2" fill="#999" stroke="#000" stroke-width="1.1"/>
<circle cx="292.68" cy="157.27" r="1.2" fill="#999" stroke="#000" stroke-width="1.1"/>
<circle cx="293.33" cy="158.92" r="1.2" fill="#999" stroke="#000" stroke-width="1.1"/>
<path d="M293.80 159.81 L294.24 160.50 L294.69 161.17 L295.13 161.92 L295.57 162.78 L296.02 163.76 L296.46 164.77 L296.90 165.79 L297.35 166.79 L297.79 167.76 L298.23 168.72 L298.68 169.66 L299.12 170.59 L299.56 171.52 L300.01 172.44 L300.45 173.37 L300.89 174.30 L301.33 175.23 L301.78 176.16 L302.22 177.11 L302.66 178.06 L303.11 179.03 L303.55 180.01 L303.99 181.00 L304.44 182.01 L304.88 183.03 L305.32 184.06 L305.77 185.10 L306.21 186.14 L306.65 187.19 L307.10 188.23 L307.54 189.27 L307.98 190.30 L308.43 191.31 L308.87 192.32 L309.31 193.30 L309.76 194.27 L310.20 195.23 L310.64 196.16 L311.09 197.08 L311.53 197.98 L311.97 198.87 L312.42 199.74 L312.86 200.59 L313.30 201.43 L313.74 202.26 L314.19 203.07 L314.63 203.87 L315.07 204.66 L315.52 205.44 L315.96 206.20 L316.40 206.95 L316.85 207.69 L317.29 208.41 L317.73 209.12 L318.18 209.82 L318.62 210.50 L319.06 211.16 L319.51 211.81 L319.95 212.44 L320.39 213.05 L320.84 213.65 L321.28 214.23 L321.72 214.80 L322.17 215.35 L322.61 215.88 L323.05 216.40 L323.50 216.90 L323.94 217.39 L324.38 217.87 L324.83 218.33 L325.27 218.79 L325.71 219.23 L326.15 219.65 L326.60 220.07 L327.04 220.48 L327.48 220.88 L327.93 221.27 L328.37 221.65 L328.81 222.03 L329.26 222.40 L329.70 222.75 L330.14 223.11 L330.59 223.45 L331.03 223.79 L331.47 224.13 L331.92 224.46 L332.36 224.79 L332.80 225.11 L333.25 225.43 L333.69 225.75 L334.13 226.06 L334.58 226.38 L335.02 226.69 L335.46 227.00 L335.91 227.31 L336.35 227.62 L336.79 227.93 L337.24 228.24 L337.68 228.55 L338.12 228.85 L338.56 229.16 L339.01 229.47 L339.45 229.78 L339.89 230.09 L340.34 230.39 L340.78 230.70 L341.22 231.01 L341.67 231.32 L342.11 231.62 L342.55 231.93 L343.00 232.23 L343.44 232.54 L343.88 232.84 L344.33 233.15 L344.77 233.45 L345.21 233.75 L345.66 234.05 L346.10 234.35 L346.54 234.64 L346.99 234.93 L347.43 235.22 L347.87 235.50 L348.32 235.78 L348.76 236.05 L349.20 236.31 L349.65 236.57 L350.09 236.83 L350.53 237.07 L350.97 237.31 L351.42 237.55 L351.86 237.78 L352.30 238.00 L352.75 238.22 L353.19 238.43 L353.63 238.63 L354.08 238.83 L354.52 239.03 L354.96 239.22 L355.41 239.40 L355.85 239.58 L356.29 239.76 L356.74 239.93 L357.18 240.09 L357.62 240.25 L358.07 240.41 L358.51 240.56 L358.95 240.71 L359.40 240.85 L359.84 240.99 L360.28 241.12 L360.73 241.25 L361.17 241.38 L361.61 241.50 L362.06 241.61 L362.50 241.72 L362.94 241.83 L363.38 241.93 L363.83 242.03 L364.27 242.12 L364.71 242.21 L365.16 242.29 L365.60 242.37 L366.04 242.44 L366.49 242.51 L366.93 242.58 L367.37 242.64 L367.82 242.69 L368.26 242.75 L368.70 242.79 L369.15 242.84 L369.59 242.88 L370.03 242.91 L370.48 242.95 L370.92 242.97 L371.36 243.00 L371.81 243.02 L372.25 243.04 L372.69 243.05 L373.14 243.06 L373.58 243.07 L374.02 243.08 L374.47 243.08 L374.91 243.09 L375.35 243.09 L375.79 243.10 L376.24 243.10 L376.68 243.10 L377.12 243.10 L377.57 243.10 L378.01 243.10 L378.45 243.10 L378.90 243.10 L379.34 243.10 L379.78 243.10 L380.23 243.10 L380.67 243.10 L381.11 243.10 L381.56 243.10 L382.00 243.10" fill="none" stroke="#000" stroke-width="3.0" stroke-linejoin="round" stroke-linecap="round"/>
<path d="M293.80 159.81 L294.24 160.50 L294.69 161.17 L295.13 161.92 L295.57 162.78 L296.02 163.76 L296.46 164.77 L296.90 165.79 L297.35 166.79 L297.79 167.76 L298.23 168.72 L298.68 169.66 L299.12 170.59 L299.56 171.52 L300.01 172.44 L300.45 173.37 L300.89 174.30 L301.33 175.23 L301.78 176.16 L302.22 177.11 L302.66 178.06 L303.11 179.03 L303.55 180.01 L303.99 181.00 L304.44 182.01 L304.88 183.03 L305.32 184.06 L305.77 185.10 L306.21 186.14 L306.65 187.19 L307.10 188.23 L307.54 189.27 L307.98 190.30 L308.43 191.31 L308.87 192.32 L309.31 193.30 L309.76 194.27 L310.20 195.23 L310.64 196.16 L311.09 197.08 L311.53 197.98 L311.97 198.87 L312.42 199.74 L312.86 200.59 L313.30 201.43 L313.74 202.26 L314.19 203.07 L314.63 203.87 L315.07 204.66 L315.52 205.44 L315.96 206.20 L316.40 206.95 L316.85 207.69 L317.29 208.41 L317.73 209.12 L318.18 209.82 L318.62 210.50 L319.06 211.16 L319.51 211.81 L319.95 212.44 L320.39 213.05 L320.84 213.65 L321.28 214.23 L321.72 214.80 L322.17 215.35 L322.61 215.88 L323.05 216.40 L323.50 216.90 L323.94 217.39 L324.38 217.87 L324.83 218.33 L325.27 218.79 L325.71 219.23 L326.15 219.65 L326.60 220.07 L327.04 220.48 L327.48 220.88 L327.93 221.27 L328.37 221.65 L328.81 222.03 L329.26 222.40 L329.70 222.75 L330.14 223.11 L330.59 223.45 L331.03 223.79 L331.47 224.13 L331.92 224.46 L332.36 224.79 L332.80 225.11 L333.25 225.43 L333.69 225.75 L334.13 226.06 L334.58 226.38 L335.02 226.69 L335.46 227.00 L335.91 227.31 L336.35 227.62 L336.79 227.93 L337.24 228.24 L337.68 228.55 L338.12 228.85 L338.56 229.16 L339.01 229.47 L339.45 229.78 L339.89 230.09 L340.34 230.39 L340.78 230.70 L341.22 231.01 L341.67 231.32 L342.11 231.62 L342.55 231.93 L343.00 232.23 L343.44 232.54 L343.88 232.84 L344.33 233.15 L344.77 233.45 L345.21 233.75 L345.66 234.05 L346.10 234.35 L346.54 234.64 L346.99 234.93 L347.43 235.22 L347.87 235.50 L348.32 235.78 L348.76 236.05 L349.20 236.31 L349.65 236.57 L350.09 236.83 L350.53 237.07 L350.97 237.31 L351.42 237.55 L351.86 237.78 L352.30 238.00 L352.75 238.22 L353.19 238.43 L353.63 238.63 L354.08 238.83 L354.52 239.03 L354.96 239.22 L355.41 239.40 L355.85 239.58 L356.29 239.76 L356.74 239.93 L357.18 240.09 L357.62 240.25 L358.07 240.41 L358.51 240.56 L358.95 240.71 L359.40 240.85 L359.84 240.99 L360.28 241.12 L360.73 241.25 L361.17 241.38 L361.61 241.50 L362.06 241.61 L362.50 241.72 L362.94 241.83 L363.38 241.93 L363.83 242.03 L364.27 242.12 L364.71 242.21 L365.16 242.29 L365.60 242.37 L366.04 242.44 L366.49 242.51 L366.93 242.58 L367.37 242.64 L367.82 242.69 L368.26 242.75 L368.70 242.79 L369.15 242.84 L369.59 242.88 L370.03 242.91 L370.48 242.95 L370.92 242.97 L371.36 243.00 L371.81 243.02 L372.25 243.04 L372.69 243.05 L373.14 243.06 L373.58 243.07 L374.02 243.08 L374.47 243.08 L374.91 243.09 L375.35 243.09 L375.79 243.10 L376.24 243.10 L376.68 243.10 L377.12 243.10 L377.57 243.10 L378.01 243.10 L378.45 243.10 L378.90 243.10 L379.34 243.10 L379.78 243.10 L380.23 243.10 L380.67 243.10 L381.11 243.10 L381.56 243.10 L382.00 243.10" fill="none" stroke="#999" stroke-width="0.8" stroke-linejoin="round"/>
<path d="M241.78 241.35 L242.05 240.61 L242.33 239.77 L242.60 238.86 L242.88 237.89 L243.15 236.90 L243.43 235.92 L243.70 234.94 L243.98 234.00 L244.25 233.08 L244.53 232.28 L244.80 231.43 L245.08 230.51 L245.35 229.49 L245.63 228.38 L245.90 227.16 L246.18 225.74 L246.45 224.13 L246.73 222.59 L247.00 221.26" fill="none" stroke="#000" stroke-width="2.8" stroke-linecap="round" stroke-linejoin="round"/>
<path d="M248.08 219.82 L248.29 220.02 L248.49 220.24 L248.70 220.51 L248.90 220.81 L249.11 220.98 L249.31 221.22 L249.52 221.52" fill="none" stroke="#000" stroke-width="2.0" stroke-linecap="round" stroke-linejoin="round"/>
<circle cx="247.01" cy="218.72" r="1.25" fill="#444" stroke="#000" stroke-width="1"/>
<circle cx="247.11" cy="215.12" r="1.25" fill="#444" stroke="#000" stroke-width="1"/>
<circle cx="247.29" cy="209.13" r="1.25" fill="#444" stroke="#000" stroke-width="1"/>
<circle cx="247.44" cy="204.33" r="1.25" fill="#444" stroke="#000" stroke-width="1"/>
<path d="M241.24 243.90 L241.71 243.86 L242.18 243.75 L242.65 243.54 L243.12 243.16 L243.59 242.61 L244.06 241.97 L244.54 241.29 L245.01 240.87 L245.48 240.42 L245.95 239.91 L246.42 239.29 L246.89 238.51 L247.36 237.16 L247.83 235.37 L248.30 233.78 L248.77 232.74 L249.24 231.88 L249.71 231.14 L250.18 230.45 L250.66 229.79 L251.13 229.12 L251.60 228.45 L252.07 227.78 L252.54 227.10 L253.01 226.43 L253.48 225.77 L253.95 225.13 L254.42 224.51 L254.89 223.89 L255.36 223.28 L255.83 222.68 L256.30 222.08 L256.78 221.49 L257.25 220.89 L257.72 220.29 L258.19 219.68 L258.66 219.07 L259.13 218.45 L259.60 217.82 L260.07 217.18 L260.54 216.53 L261.01 215.87 L261.48 215.20 L261.95 214.51 L262.42 213.82 L262.90 213.11 L263.37 212.39 L263.84 211.66 L264.31 210.92 L264.78 210.17 L265.25 209.41 L265.72 208.63 L266.19 207.85 L266.66 207.05 L267.13 206.25 L267.60 205.43 L268.07 204.61 L268.54 203.78 L269.02 202.93 L269.49 202.08 L269.96 201.22 L270.43 200.35 L270.90 199.47 L271.37 198.59 L271.84 197.69 L272.31 196.79 L272.78 195.88 L273.25 194.97 L273.72 194.05 L274.19 193.12 L274.66 192.18 L275.14 191.23 L275.61 190.28 L276.08 189.33 L276.55 188.36 L277.02 187.40 L277.49 186.43 L277.96 185.45 L278.43 184.47 L278.90 183.50 L279.37 182.52 L279.84 181.54 L280.31 180.56 L280.78 179.59 L281.26 178.62 L281.73 177.66 L282.20 176.71 L282.67 175.77 L283.14 174.84 L283.61 173.92 L284.08 173.02 L284.55 172.14 L285.02 171.28 L285.49 170.43 L285.96 169.61 L286.43 168.81 L286.90 168.02 L287.38 167.26 L287.85 166.52 L288.32 165.80 L288.79 165.09 L289.26 164.41 L289.73 163.74 L290.20 163.08 L290.67 162.44 L291.14 161.81 L291.61 161.20 L292.08 160.59 L292.55 160.00 L293.02 159.42 L293.50 158.84 L293.97 158.28 L294.44 157.72 L294.91 157.17 L295.38 156.63 L295.85 156.11 L296.32 155.59 L296.79 155.08 L297.26 154.58 L297.73 154.09 L298.20 153.62 L298.67 153.15 L299.14 152.70 L299.62 152.26 L300.09 151.84 L300.56 151.43 L301.03 151.03 L301.50 150.64 L301.97 150.27 L302.44 149.91 L302.91 149.56 L303.38 149.22 L303.85 148.89 L304.32 148.57 L304.79 148.26 L305.26 147.96 L305.74 147.66 L306.21 147.38 L306.68 147.10 L307.15 146.83 L307.62 146.57 L308.09 146.31 L308.56 146.06 L309.03 145.82 L309.50 145.59 L309.97 145.36 L310.44 145.14 L310.91 144.93 L311.38 144.72 L311.86 144.52 L312.33 144.33 L312.80 144.14 L313.27 143.96 L313.74 143.79 L314.21 143.62 L314.68 143.46 L315.15 143.30 L315.62 143.15 L316.09 143.00 L316.56 142.85 L317.03 142.71 L317.50 142.57 L317.98 142.44 L318.45 142.31 L318.92 142.18 L319.39 142.05 L319.86 141.93 L320.33 141.81 L320.80 141.69 L321.27 141.57 L321.74 141.46 L322.21 141.35 L322.68 141.24 L323.15 141.13 L323.62 141.03 L324.10 140.93 L324.57 140.83 L325.04 140.73 L325.51 140.64 L325.98 140.55 L326.45 140.46 L326.92 140.37 L327.39 140.28 L327.86 140.20 L328.33 140.12 L328.80 140.04 L329.27 139.96 L329.74 139.89 L330.22 139.82 L330.69 139.75 L331.16 139.68 L331.63 139.61 L332.10 139.55 L332.57 139.48 L333.04 139.42 L333.51 139.36 L333.98 139.30 L334.45 139.25 L334.92 139.19 L335.39 139.13 L335.86 139.08 L336.34 139.03 L336.81 138.98 L337.28 138.93 L337.75 138.88 L338.22 138.83 L338.69 138.79 L339.16 138.74 L339.63 138.70 L340.10 138.65 L340.57 138.61 L341.04 138.57 L341.51 138.53 L341.98 138.48 L342.46 138.45 L342.93 138.41 L343.40 138.37 L343.87 138.33 L344.34 138.30 L344.81 138.26 L345.28 138.23 L345.75 138.19 L346.22 138.16 L346.69 138.13 L347.16 138.10 L347.63 138.07 L348.10 138.04 L348.58 138.01 L349.05 137.98 L349.52 137.95 L349.99 137.92 L350.46 137.90 L350.93 137.87 L351.40 137.84 L351.87 137.82 L352.34 137.79 L352.81 137.77 L353.28 137.74 L353.75 137.72 L354.22 137.70 L354.70 137.67 L355.17 137.65 L355.64 137.63 L356.11 137.61 L356.58 137.58 L357.05 137.56 L357.52 137.54 L357.99 137.53 L358.46 137.51 L358.93 137.49 L359.40 137.47 L359.87 137.46 L360.34 137.44 L360.82 137.43 L361.29 137.41 L361.76 137.40 L362.23 137.39 L362.70 137.38 L363.17 137.37 L363.64 137.36 L364.11 137.35 L364.58 137.34 L365.05 137.33 L365.52 137.32 L365.99 137.32 L366.46 137.31 L366.94 137.30 L367.41 137.30 L367.88 137.29 L368.35 137.28 L368.82 137.28 L369.29 137.27 L369.76 137.27 L370.23 137.26 L370.70 137.26 L371.17 137.25 L371.64 137.25 L372.11 137.24 L372.58 137.24 L373.06 137.23 L373.53 137.23 L374.00 137.23 L374.47 137.22 L374.94 137.22 L375.41 137.22 L375.88 137.21 L376.35 137.21 L376.82 137.21 L377.29 137.21 L377.76 137.20 L378.23 137.20 L378.70 137.20 L379.18 137.20 L379.65 137.20 L380.12 137.19 L380.59 137.19 L381.06 137.19 L381.53 137.19 L382.00 137.19" fill="none" stroke="#f00" stroke-width="3.2" stroke-linejoin="round" stroke-linecap="round"/>
</g>
<rect x="238.00" y="3.75" width="144.00" height="240.15" fill="none" stroke="#000" stroke-width="1.25"/>
<line x1="238.00" y1="124.00" x2="382.00" y2="124.00" stroke="#000" stroke-width="1.25"/>
<line x1="382.00" y1="124.00" x2="382.00" y2="244.50" stroke="#f00" stroke-width="1.3"/>
<line x1="238.00" y1="108.97" x2="240.00" y2="108.97" stroke="#000" stroke-width="0.9"/>
<line x1="238.00" y1="93.94" x2="241.50" y2="93.94" stroke="#000" stroke-width="0.9"/>
<line x1="238.00" y1="78.91" x2="240.00" y2="78.91" stroke="#000" stroke-width="0.9"/>
<line x1="238.00" y1="63.88" x2="241.50" y2="63.88" stroke="#000" stroke-width="0.9"/>
<line x1="238.00" y1="48.84" x2="240.00" y2="48.84" stroke="#000" stroke-width="0.9"/>
<line x1="238.00" y1="33.81" x2="241.50" y2="33.81" stroke="#000" stroke-width="0.9"/>
<line x1="238.00" y1="18.78" x2="240.00" y2="18.78" stroke="#000" stroke-width="0.9"/>
<line x1="238.00" y1="120.50" x2="238.00" y2="127.50" stroke="#000" stroke-width="0.9"/>
<line x1="238.00" y1="243.90" x2="238.00" y2="240.40" stroke="#000" stroke-width="0.9"/>
<line x1="256.00" y1="122.00" x2="256.00" y2="126.00" stroke="#000" stroke-width="0.9"/>
<line x1="256.00" y1="243.90" x2="256.00" y2="241.90" stroke="#000" stroke-width="0.9"/>
<line x1="274.00" y1="120.50" x2="274.00" y2="127.50" stroke="#000" stroke-width="0.9"/>
<line x1="274.00" y1="243.90" x2="274.00" y2="240.40" stroke="#000" stroke-width="0.9"/>
<line x1="292.00" y1="122.00" x2="292.00" y2="126.00" stroke="#000" stroke-width="0.9"/>
<line x1="292.00" y1="243.90" x2="292.00" y2="241.90" stroke="#000" stroke-width="0.9"/>
<line x1="310.00" y1="120.50" x2="310.00" y2="127.50" stroke="#000" stroke-width="0.9"/>
<line x1="310.00" y1="243.90" x2="310.00" y2="240.40" stroke="#000" stroke-width="0.9"/>
<line x1="328.00" y1="122.00" x2="328.00" y2="126.00" stroke="#000" stroke-width="0.9"/>
<line x1="328.00" y1="243.90" x2="328.00" y2="241.90" stroke="#000" stroke-width="0.9"/>
<line x1="346.00" y1="120.50" x2="346.00" y2="127.50" stroke="#000" stroke-width="0.9"/>
<line x1="346.00" y1="243.90" x2="346.00" y2="240.40" stroke="#000" stroke-width="0.9"/>
<line x1="364.00" y1="122.00" x2="364.00" y2="126.00" stroke="#000" stroke-width="0.9"/>
<line x1="364.00" y1="243.90" x2="364.00" y2="241.90" stroke="#000" stroke-width="0.9"/>
<line x1="382.00" y1="120.50" x2="382.00" y2="127.50" stroke="#000" stroke-width="0.9"/>
<line x1="382.00" y1="243.90" x2="382.00" y2="240.40" stroke="#000" stroke-width="0.9"/>
<line x1="238.00" y1="223.92" x2="240.00" y2="223.92" stroke="#000" stroke-width="0.9"/>
<line x1="238.00" y1="203.93" x2="241.50" y2="203.93" stroke="#000" stroke-width="0.9"/>
<line x1="238.00" y1="183.95" x2="240.00" y2="183.95" stroke="#000" stroke-width="0.9"/>
<line x1="238.00" y1="163.97" x2="241.50" y2="163.97" stroke="#000" stroke-width="0.9"/>
<line x1="238.00" y1="143.98" x2="240.00" y2="143.98" stroke="#000" stroke-width="0.9"/>
<line x1="382.00" y1="228.91" x2="380.00" y2="228.91" stroke="#f00" stroke-width="0.9"/>
<line x1="382.00" y1="213.93" x2="378.50" y2="213.93" stroke="#f00" stroke-width="0.9"/>
<line x1="382.00" y1="198.94" x2="380.00" y2="198.94" stroke="#f00" stroke-width="0.9"/>
<line x1="382.00" y1="183.95" x2="378.50" y2="183.95" stroke="#f00" stroke-width="0.9"/>
<line x1="382.00" y1="168.96" x2="380.00" y2="168.96" stroke="#f00" stroke-width="0.9"/>
<line x1="382.00" y1="153.97" x2="378.50" y2="153.97" stroke="#f00" stroke-width="0.9"/>
<line x1="382.00" y1="138.99" x2="380.00" y2="138.99" stroke="#f00" stroke-width="0.9"/>
<text x="234" y="98.04" font-family="Liberation Sans, sans-serif" font-size="11.8" text-anchor="end">1</text>
<text x="234" y="67.97" font-family="Liberation Sans, sans-serif" font-size="11.8" text-anchor="end">2</text>
<text x="234" y="37.91" font-family="Liberation Sans, sans-serif" font-size="11.8" text-anchor="end">3</text>
<text x="234" y="7.85" font-family="Liberation Sans, sans-serif" font-size="11.8" text-anchor="end">4</text>
<text x="234" y="128.10" font-family="Liberation Sans, sans-serif" font-size="11.8" text-anchor="end">0</text>
<text x="234" y="248.00" font-family="Liberation Sans, sans-serif" font-size="11.8" text-anchor="end">0</text>
<text x="234" y="208.03" font-family="Liberation Sans, sans-serif" font-size="11.8" text-anchor="end">10</text>
<text x="234" y="168.07" font-family="Liberation Sans, sans-serif" font-size="11.8" text-anchor="end">20</text>
<text x="238.00" y="257" font-family="Liberation Sans, sans-serif" font-size="11.8" text-anchor="middle">0</text>
<text x="274.00" y="257" font-family="Liberation Sans, sans-serif" font-size="11.8" text-anchor="middle">20</text>
<text x="310.00" y="257" font-family="Liberation Sans, sans-serif" font-size="11.8" text-anchor="middle">40</text>
<text x="346.00" y="257" font-family="Liberation Sans, sans-serif" font-size="11.8" text-anchor="middle">60</text>
<text x="382.00" y="257" font-family="Liberation Sans, sans-serif" font-size="11.8" text-anchor="middle">80</text>
<text x="385" y="248.00" font-family="Liberation Sans, sans-serif" font-size="11.8" fill="#f00">0</text>
<text x="385" y="218.03" font-family="Liberation Sans, sans-serif" font-size="11.8" fill="#f00">10</text>
<text x="385" y="188.05" font-family="Liberation Sans, sans-serif" font-size="11.8" fill="#f00">20</text>
<text x="385" y="158.07" font-family="Liberation Sans, sans-serif" font-size="11.8" fill="#f00">30</text>
<text x="385" y="128.10" font-family="Liberation Sans, sans-serif" font-size="11.8" fill="#f00">40</text>
<text x="310.5" y="273" font-family="Liberation Sans, sans-serif" font-size="12.3" text-anchor="middle"><tspan font-style="italic">T</tspan><tspan dx="-0.9"> (K)</tspan></text>
<text transform="translate(213.1 63.7) rotate(-90)" font-family="Liberation Sans, sans-serif" font-size="12.3" text-anchor="middle"><tspan font-style="italic">C</tspan><tspan font-size="7.2" dy="2.9" font-style="italic">p</tspan><tspan dy="-2.9">/T (J K</tspan><tspan font-size="7.2" dy="-5.2">-2</tspan><tspan dy="5.2"> mol</tspan><tspan font-size="7.2" dy="-5.2">-1</tspan><tspan dy="5.2">)</tspan></text>
<text transform="translate(213.1 183.75) rotate(-90)" font-family="Liberation Sans, sans-serif" font-size="12.3" text-anchor="middle"><tspan font-style="italic">C</tspan><tspan font-size="7.2" dy="2.9">ex</tspan><tspan dy="-2.9"> (J K</tspan><tspan font-size="7.2" dy="-5.2">-1</tspan><tspan dy="5.2"> mol</tspan><tspan font-size="7.2" dy="-5.2">-1</tspan><tspan dy="5.2">)</tspan></text>
<text transform="translate(411.8 183.9) rotate(-90)" font-family="Liberation Sans, sans-serif" font-size="12.3" text-anchor="middle" fill="#f00"><tspan font-style="italic">S</tspan><tspan font-size="7.2" dy="2.9">ex</tspan><tspan dy="-2.9"> (J K</tspan><tspan font-size="7.2" dy="-5.2">-1</tspan><tspan dy="5.2"> mol</tspan><tspan font-size="7.2" dy="-5.2">-1</tspan><tspan dy="5.2">)</tspan></text>
<text x="362.3" y="16.5" font-family="Liberation Sans, sans-serif" font-size="12">(b)</text>
<text x="363.6" y="136.2" font-family="Liberation Sans, sans-serif" font-size="12">(c)</text>
<text x="252.2" y="140.3" font-family="Liberation Sans, sans-serif" font-size="12"><tspan font-style="italic">T</tspan><tspan font-size="8.5" dy="-3">*</tspan></text>
<text x="263.8" y="236.7" font-family="Liberation Sans, sans-serif" font-size="11.2"><tspan font-style="italic">T</tspan><tspan font-size="7.8" dy="2.8">FE2</tspan></text>
<text x="294.3" y="236.7" font-family="Liberation Sans, sans-serif" font-size="11.2"><tspan font-style="italic">T</tspan><tspan font-size="7.8" dy="2.8">FE1</tspan></text>
</svg>
</body></html>
